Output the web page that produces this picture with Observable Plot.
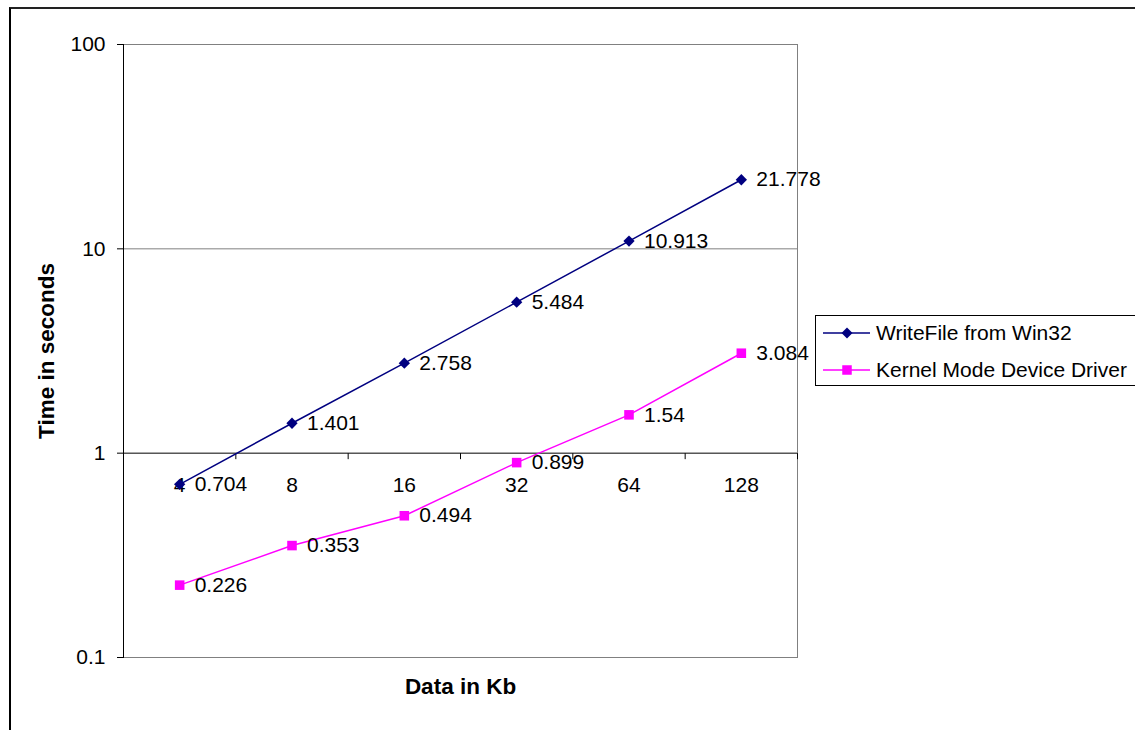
<!DOCTYPE html>
<html>
<head>
<meta charset="utf-8">
<script src="https://cdn.jsdelivr.net/npm/d3@7"></script>
<script src="https://cdn.jsdelivr.net/npm/@observablehq/plot@0.6"></script>
<style>
  html, body { margin: 0; padding: 0; background: #fff; }
  body { font-family: "Liberation Sans", Arial, sans-serif; }
  #wrap { position: relative; width: 1135px; height: 730px; overflow: hidden; background: #fff; }
  #outer { position: absolute; left: 9px; top: 7px; width: 1200px; height: 800px; border-left: 2px solid #000; border-top: 2px solid #222; box-sizing: border-box; }
  #chart { position: absolute; left: 0; top: 0; }
  #legend { position: absolute; left: 815px; top: 315px; width: 330px; height: 71px; border: 1px solid #000; background: #fff; box-sizing: border-box; font-size: 21px; color: #000; }
  .row { position: absolute; left: 0; height: 30px; display: flex; align-items: center; white-space: nowrap; }
  .row svg { margin-left: 7px; margin-right: 6px; }
</style>
</head>
<body>
<div id="wrap">
  <div id="outer"></div>
  <div id="chart"></div>
  <div id="legend"></div>
</div>
<script>
// ---- data ----
const sizes = ["4", "8", "16", "32", "64", "128"];
const writeFile = [0.704, 1.401, 2.758, 5.484, 10.913, 21.778];
const kernel = [0.226, 0.353, 0.494, 0.899, 1.54, 3.084];
const seriesNames = ["WriteFile from Win32", "Kernel Mode Device Driver"];
const seriesColors = ["#000080", "#FF00FF"];
const yTicks = [0.1, 1, 10, 100];
const yTitle = "Time in seconds";
const xTitle = "Data in Kb";

const rows = [
  ...sizes.map((s, i) => ({i, size: s, value: writeFile[i], series: seriesNames[0]})),
  ...sizes.map((s, i) => ({i, size: s, value: kernel[i], series: seriesNames[1]}))
];
const wf = rows.filter(d => d.series === seriesNames[0]);
const km = rows.filter(d => d.series === seriesNames[1]);
const boundaries = d3.range(sizes.length + 1).map(k => k - 0.5);

// custom symbols
const diamond = {draw(ctx, size) { const h = Math.sqrt(size / 2); ctx.moveTo(0, -h); ctx.lineTo(h, 0); ctx.lineTo(0, h); ctx.lineTo(-h, 0); ctx.closePath(); }};
const square = {draw(ctx, size) { const h = Math.sqrt(size) / 2; ctx.rect(-h, -h, 2 * h, 2 * h); }};
const tickDown = {draw(ctx, size) { ctx.moveTo(0, 0); ctx.lineTo(0, 6); }};

const font = "Liberation Sans, Arial, sans-serif";

const plot = Plot.plot({
  width: 1135,
  height: 730,
  marginLeft: 123,
  marginRight: 338,
  marginTop: 44,
  marginBottom: 73,
  style: {fontFamily: font, fontSize: "21px", background: "transparent", color: "#000"},
  x: {type: "linear", domain: [-0.5, sizes.length - 0.5], axis: null},
  y: {type: "log", domain: [0.1, 100], axis: null},
  marks: [
    Plot.ruleY([10, 100], {stroke: "#808080", strokeWidth: 1}),
    Plot.frame({stroke: "#808080", strokeWidth: 1}),
    Plot.frame({anchor: "left", stroke: "#000", strokeWidth: 1}),
    Plot.ruleY([1], {stroke: "#000", strokeWidth: 1}),
    Plot.axisY({ticks: yTicks, tickFormat: d => String(d), tickSize: 6, tickPadding: 12, fontSize: 21, label: null, stroke: "#000", strokeOpacity: 1}),
    Plot.dot(boundaries, {x: d => d, y: () => 1, symbol: tickDown, stroke: "#000", fill: null, r: 3, strokeWidth: 1}),
    Plot.text(sizes, {x: (d, i) => i, y: () => 1, text: d => d, dy: 32, fontSize: 21, fill: "#000"}),
    Plot.line(wf, {x: "i", y: "value", stroke: seriesColors[0], strokeWidth: 1.5}),
    Plot.line(km, {x: "i", y: "value", stroke: seriesColors[1], strokeWidth: 1.5}),
    Plot.dot(wf, {x: "i", y: "value", symbol: diamond, fill: seriesColors[0], stroke: null, r: 4.5}),
    Plot.dot(km, {x: "i", y: "value", symbol: square, fill: seriesColors[1], stroke: null, r: 5.4}),
    Plot.text(rows, {x: "i", y: "value", text: d => String(d.value), dx: 15, textAnchor: "start", fontSize: 21, fill: "#000"}),
    Plot.text([yTitle], {frameAnchor: "left", textAnchor: "middle", dx: -77, rotate: -90, fontWeight: "bold", fontSize: 22.5, fill: "#000"}),
    Plot.text([xTitle], {frameAnchor: "bottom", textAnchor: "middle", dy: 36, fontWeight: "bold", fontSize: 22.5, fill: "#000"})
  ]
});
document.getElementById("chart").appendChild(plot);

// legend
const legend = document.getElementById("legend");
seriesNames.forEach((name, k) => {
  const row = document.createElement("div");
  row.className = "row";
  row.style.top = (k === 0 ? 2 : 39) + "px";
  const svg = d3.create("svg").attr("width", 47).attr("height", 14);
  svg.append("line").attr("x1", 0).attr("x2", 47).attr("y1", 7).attr("y2", 7)
    .attr("stroke", seriesColors[k]).attr("stroke-width", 1.5);
  if (k === 0) {
    svg.append("path").attr("d", "M24,1.5L29.5,7L24,12.5L18.5,7Z").attr("fill", seriesColors[k]);
  } else {
    svg.append("rect").attr("x", 19.25).attr("y", 2.25).attr("width", 9.5).attr("height", 9.5).attr("fill", seriesColors[k]);
  }
  row.appendChild(svg.node());
  const span = document.createElement("span");
  span.textContent = name;
  row.appendChild(span);
  legend.appendChild(row);
});
</script>
</body>
</html>
